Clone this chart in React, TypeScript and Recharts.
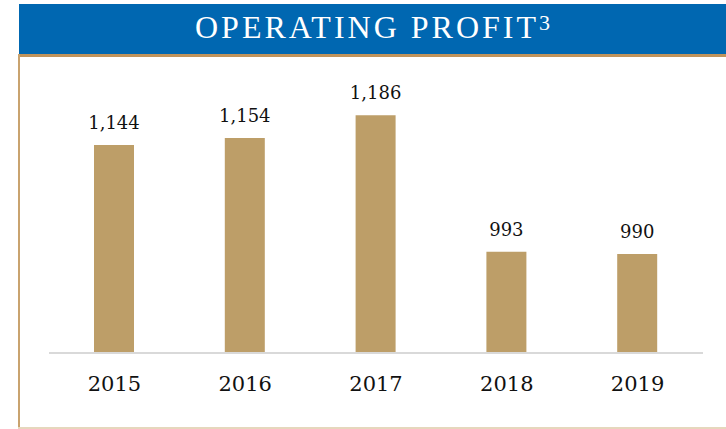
import React from 'react';
import { BarChart, Bar, XAxis, YAxis, LabelList } from 'recharts';

const years = ['2015', '2016', '2017', '2018', '2019'];
const profit = [1144, 1154, 1186, 993, 990];

const data = years.map((y, i) => ({ year: y, value: profit[i] }));

const serif = 'DejaVu Serif';

export default function App() {
  return (
    <div style={{ position: 'absolute', left: 0, top: 0, width: 726, height: 429, background: '#fff', overflow: 'hidden', fontFamily: serif }}>
      {/* header */}
      <div
        style={{
          position: 'absolute',
          left: 19,
          top: 4,
          width: 707,
          height: 50,
          background: '#0067b1',
          color: '#fff',
          textAlign: 'center',
          fontFamily: '"Liberation Serif", serif',
          fontSize: 32,
          lineHeight: '46px',
          letterSpacing: 3,
        }}
      >
        OPERATING PROFIT
        <span style={{ fontSize: 22, position: 'relative', top: -8, letterSpacing: 0 }}>3</span>
      </div>
      {/* frame */}
      <div style={{ position: 'absolute', left: 18, top: 54, width: 708, height: 3, background: '#c0935b' }} />
      <div style={{ position: 'absolute', left: 18, top: 54, width: 2, height: 375, background: '#c9a36f' }} />
      <div style={{ position: 'absolute', left: 18, top: 427, width: 708, height: 2, background: '#e6d7bd' }} />
      <div style={{ position: 'absolute', left: 0, top: 0 }}>
        <BarChart
          width={726}
          height={429}
          data={data}
          margin={{ top: 70, right: 23, left: 49, bottom: 36 }}
          barCategoryGap={0}
        >
          <XAxis
            dataKey="year"
            height={40}
            axisLine={{ stroke: '#d9d9d9', strokeWidth: 2 }}
            tickLine={false}
            tickMargin={17}
            tick={{ fill: '#111', fontFamily: serif, fontSize: 21 }}
            interval={0}
          />
          <YAxis hide domain={[850, 1250]} allowDataOverflow />
          <Bar dataKey="value" fill="#bd9e68" barSize={40} isAnimationActive={false}>
            <LabelList
              dataKey="value"
              position="top"
              offset={16}
              formatter={(v: number) => v.toLocaleString('en-US')}
              fill="#111"
              fontFamily={serif}
              fontSize={18}
            />
          </Bar>
        </BarChart>
      </div>
    </div>
  );
}
